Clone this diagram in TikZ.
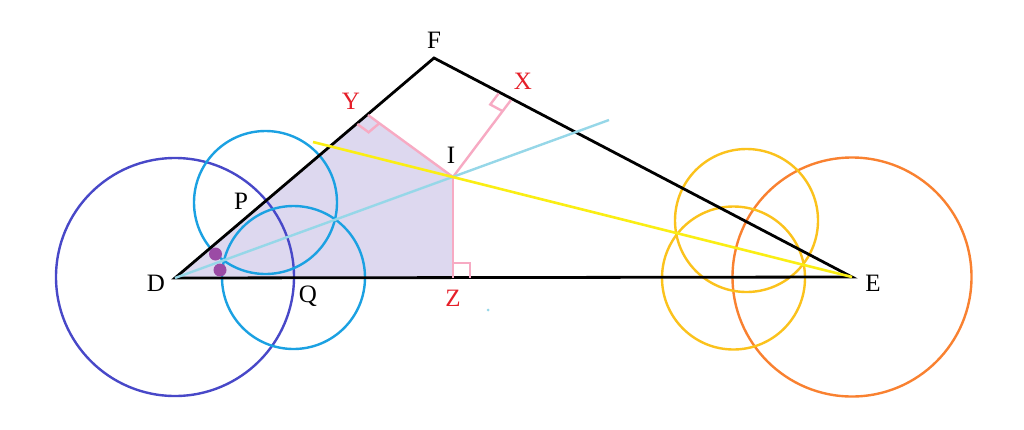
\documentclass[tikz,border=0pt]{standalone}
\usepackage{fontspec}
\setmainfont{Liberation Serif}
\usetikzlibrary{calc}
\definecolor{dkblue}{RGB}{72,72,200}
\definecolor{cblue}{RGB}{27,161,226}
\definecolor{corange}{RGB}{249,129,48}
\definecolor{cyellowc}{RGB}{251,194,28}
\definecolor{cyellowl}{RGB}{250,238,20}
\definecolor{lblue}{RGB}{150,215,232}
\definecolor{cpink}{RGB}{247,170,195}
\definecolor{cred}{RGB}{230,30,40}
\definecolor{lav}{RGB}{221,216,239}
\definecolor{cpurple}{RGB}{155,75,165}
\tikzset{
  lbl/.style={font=\fontsize{25}{25}\selectfont, inner sep=0pt, text=black},
  rlbl/.style={lbl, text=cred},
  circ/.style={line width=2.4pt},
  pinkline/.style={draw=cpink, line width=2.4pt},
}
\begin{document}
\begin{tikzpicture}[x=1pt,y=-1pt]
\useasboundingbox (0,0) rectangle (1024,429);
\fill[white] (0,0) rectangle (1024,429);
% points
\coordinate (D) at (175,278);
\coordinate (E) at (852,277);
\coordinate (F) at (434,58);
\coordinate (I) at (453,177);
\coordinate (Y) at (368,115);
\coordinate (X) at (511,100);
\coordinate (Z) at (453,278);
\coordinate (Lend) at (609,120);
\coordinate (Ystart) at (313,142);
% shaded region
\fill[lav] (D) -- (Y) -- (I) -- (Z) -- cycle;
% circles
\draw[circ, dkblue] (175,277) circle (119);
\draw[circ, cblue] (265.5,202.5) circle (71.5);
\draw[circ, cblue] (293.5,277.5) circle (71.5);
\draw[circ, corange] (852,277) circle (119.5);
\draw[circ, cyellowc] (746.5,220.5) circle (71.5);
\draw[circ, cyellowc] (733.5,278) circle (71.5);
% triangle
\draw[line width=2.8pt, black, line join=miter] (E) -- (D) -- (F) -- cycle;
% perpendiculars
\draw[pinkline] (Y) -- (I) -- (X);
\draw[pinkline] (I) -- (Z);
% right-angle marks
\coordinate (ya) at ($(Y)!14pt!(D)$);
\coordinate (yb) at ($(Y)!14pt!(I)$);
\coordinate (xa) at ($(X)!14pt!(F)$);
\coordinate (xb) at ($(X)!14pt!(I)$);
\draw[pinkline] (ya) -- ($(ya)+(yb)-(Y)$) -- (yb);
\draw[pinkline] (xa) -- ($(xa)+(xb)-(X)$) -- (xb);
\draw[pinkline] (453,263) -- (470,263) -- (470,278);
% bisector lines
\draw[lblue, line width=2.4pt] (D) -- (Lend);
\draw[cyellowl, line width=2.6pt] (Ystart) -- (E);
% angle dots
\fill[cpurple] (215.5,254) circle (6.5);
\fill[cpurple] (220,270) circle (6.5);
\fill[lblue] (488,310) circle (1.5);
% labels
\node[lbl] (lF) at (434,40) {F};
\node[rlbl] (lX) at (523,81) {X};
\node[rlbl] (lY) at (351,101) {Y};
\node[lbl] (lI) at (451,155) {I};
\node[lbl] (lP) at (241,201) {P};
\node[lbl] (lD) at (156,283) {D};
\node[lbl] (lQ) at (308,296) {Q};
\node[rlbl] (lZ) at (453,298) {Z};
\node[lbl] (lE) at (873,283) {E};
\end{tikzpicture}
\end{document}
